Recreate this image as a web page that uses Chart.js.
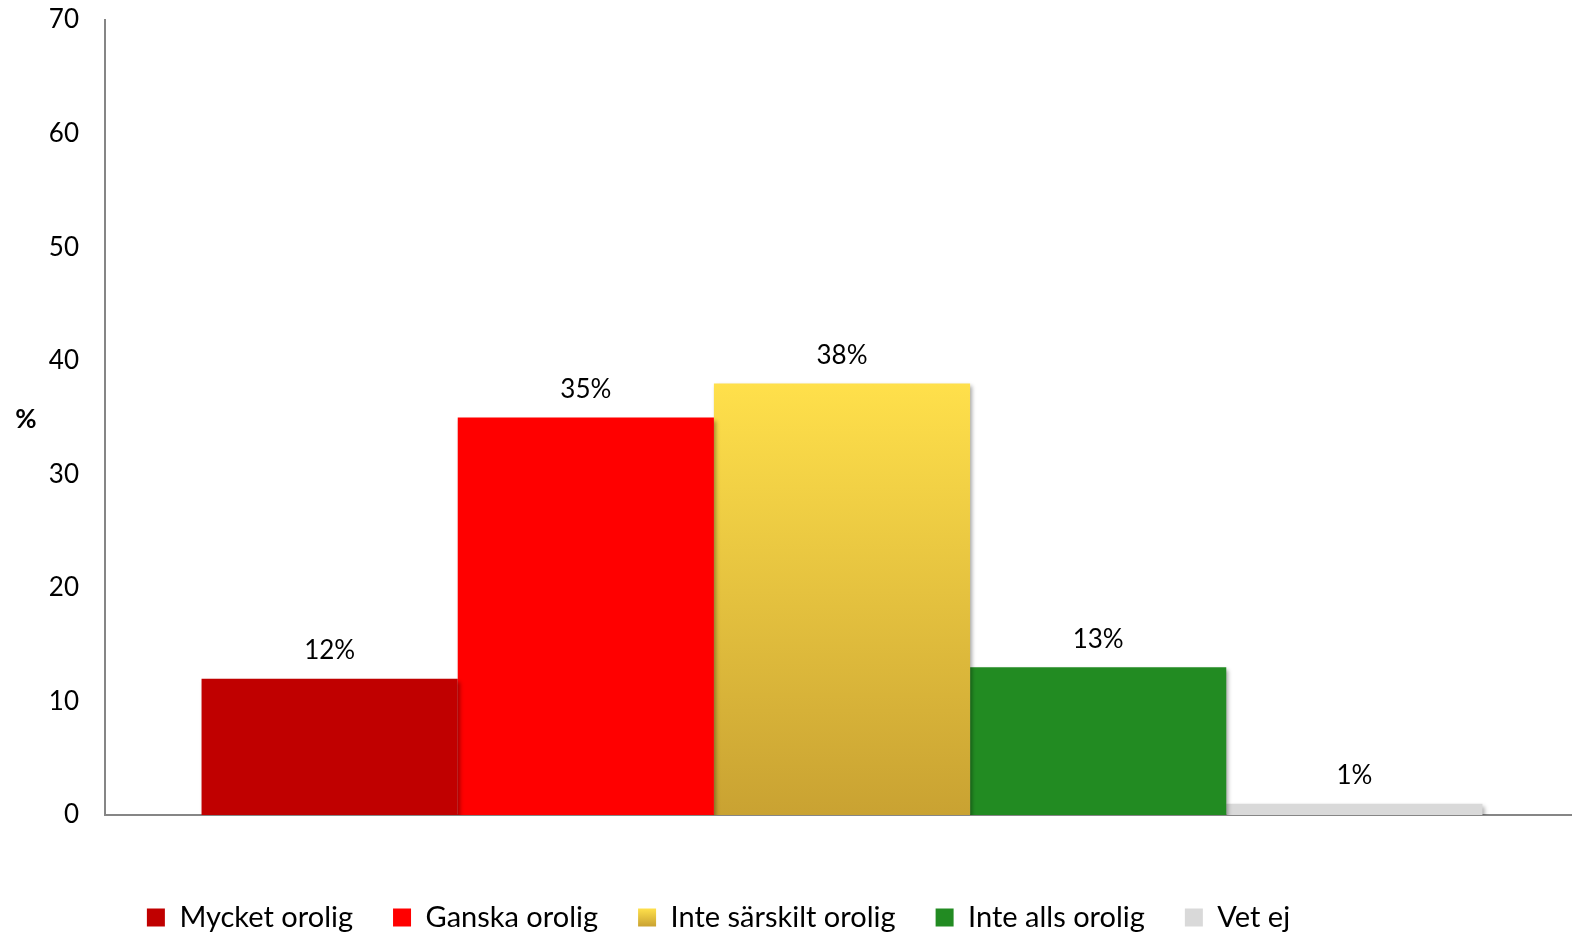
<!DOCTYPE html>
<html>
<head>
<meta charset="utf-8">
<script src="https://cdn.jsdelivr.net/npm/chart.js@4.4.0/dist/chart.umd.min.js"></script>
<style>
  html, body { margin: 0; padding: 0; background: #ffffff; overflow: hidden; }
  #wrap { width: 1572px; height: 934px; position: relative; }
</style>
</head>
<body>
<div id="wrap"><canvas id="c"></canvas></div>
<script>
// ---- data ----
const categories = [""];
const seriesNames = ["Mycket orolig", "Ganska orolig", "Inte särskilt orolig", "Inte alls orolig", "Vet ej"];
const seriesValues = [12, 35, 38, 13, 1];
const seriesColors = ["#C00000", "#FF0000", "gradient", "#228B22", "#D9D9D9"];
const yTicks = [0, 10, 20, 30, 40, 50, 60, 70];
const yTitle = "%";

const FONT = "Lato, 'Open Sans', sans-serif";
const LEGEND_FONT = 29, LEGEND_BOX = 18, LEGEND_PAD = 40;

function yellowGradient(ctx, top, bottom) {
  const g = ctx.createLinearGradient(0, top, 0, bottom);
  g.addColorStop(0, "#FFE04B");
  g.addColorStop(1, "#C9A232");
  return g;
}

const datasets = seriesNames.map((name, i) => ({
  label: name,
  data: [seriesValues[i]],
  backgroundColor: seriesColors[i] === "gradient"
    ? function (c) {
        const ca = c.chart.chartArea;
        if (!ca) return "#FFE04B";
        const ys = c.chart.scales.y;
        return yellowGradient(c.chart.ctx, ys.getPixelForValue(seriesValues[i]), ys.getPixelForValue(0));
      }
    : seriesColors[i],
  borderWidth: 0,
  barPercentage: 1.0,
  categoryPercentage: 0.869
}));

const shadowPlugin = {
  id: "shadow",
  beforeDatasetsDraw(chart) {
    const ctx = chart.ctx;
    ctx.save();
    ctx.shadowColor = "rgba(0,0,0,0.35)";
    ctx.shadowBlur = 4;
    ctx.shadowOffsetX = 2;
    ctx.shadowOffsetY = 3;
  },
  afterDatasetsDraw(chart) {
    chart.ctx.restore();
  }
};

const labelPlugin = {
  id: "valueLabels",
  afterDatasetsDraw(chart) {
    const ctx = chart.ctx;
    ctx.save();
    ctx.font = "26px " + FONT;
    ctx.fillStyle = "#000000";
    ctx.textAlign = "center";
    ctx.textBaseline = "middle";
    chart.data.datasets.forEach((ds, i) => {
      const meta = chart.getDatasetMeta(i);
      meta.data.forEach((bar, j) => {
        ctx.fillText(ds.data[j] + "%", bar.x, bar.y - 28);
      });
    });
    ctx.restore();
  }
};

const yTitlePlugin = {
  id: "yTitle",
  afterDraw(chart) {
    const ctx = chart.ctx;
    const ca = chart.chartArea;
    ctx.save();
    ctx.font = "bold 26px " + FONT;
    ctx.fillStyle = "#000000";
    ctx.textAlign = "center";
    ctx.textBaseline = "middle";
    ctx.fillText(yTitle, 26, (ca.top + ca.bottom) / 2 + 2);
    ctx.restore();
  }
};

// layout tweaks: plot area runs slightly past the right edge, legend sits left of centre
const layoutTweak = {
  id: "layoutTweak",
  afterLayout(chart) {
    const ca = chart.chartArea;
    const xs = chart.scales.x;
    const newRight = chart.width + 7;
    ca.right = newRight;
    ca.width = ca.right - ca.left;
    xs.right = newRight;
    xs.width = xs.right - xs.left;
    xs.configure();
    const lg = chart.legend;
    if (lg) { lg.left = 0; lg.right = chart.width - 135; }
  }
};

const chart = new Chart(document.getElementById("c"), {
  type: "bar",
  data: { labels: categories, datasets: datasets },
  plugins: [shadowPlugin, labelPlugin, yTitlePlugin, layoutTweak],
  options: {
    responsive: true,
    maintainAspectRatio: false,
    animation: false,
    layout: { padding: { left: 0, right: 0, top: 20, bottom: -8 } },
    scales: {
      x: {
        grid: { display: false, drawTicks: false },
        border: { display: true, color: "#868686", width: 2 },
        ticks: { display: false },
        afterFit(scale) { scale.height = 48; scale.paddingLeft = 0; scale.paddingRight = 0; }
      },
      y: {
        min: 0, max: 70,
        afterBuildTicks(scale) { scale.ticks = yTicks.map(v => ({ value: v })); },
        grid: { display: false, drawTicks: false },
        border: { display: true, color: "#868686", width: 2 },
        ticks: {
          color: "#000000",
          font: { family: FONT, size: 26 },
          padding: 26
        },
        afterFit(scale) { scale.width = 105; scale.paddingTop = 0; scale.paddingBottom = 0; }
      }
    },
    plugins: {
      tooltip: { enabled: false },
      legend: {
        position: "bottom",
        labels: {
          color: "#000000",
          font: { family: FONT, size: LEGEND_FONT },
          boxWidth: LEGEND_BOX,
          boxHeight: LEGEND_BOX,
          padding: LEGEND_PAD,
          generateLabels(chart) {
            const lg = chart.legend;
            return chart.data.datasets.map((ds, i) => {
              let fill = seriesColors[i];
              if (fill === "gradient") {
                if (lg && typeof lg.top === "number" && !isNaN(lg.top)) {
                  const boxTop = lg.top + LEGEND_PAD + Math.max((LEGEND_FONT - LEGEND_BOX) / 2, 0);
                  fill = yellowGradient(chart.ctx, boxTop, boxTop + LEGEND_BOX);
                } else {
                  fill = "#E8C440";
                }
              }
              return {
                text: ds.label,
                fillStyle: fill,
                strokeStyle: "rgba(0,0,0,0)",
                lineWidth: 0,
                hidden: false,
                datasetIndex: i,
                fontColor: "#000000"
              };
            });
          }
        }
      }
    }
  }
});
chart.update();
</script>
</body>
</html>
